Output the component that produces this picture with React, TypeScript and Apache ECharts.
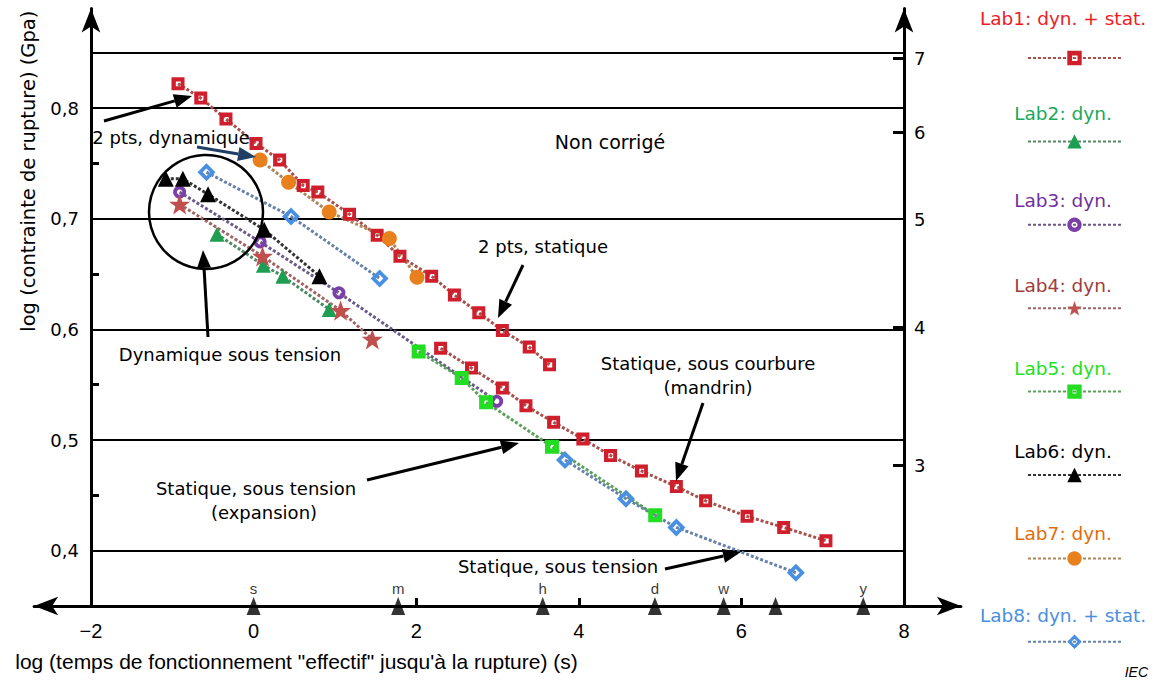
import React, { useEffect, useRef } from 'react';
import * as echarts from 'echarts';

// ---------- data ----------
const labNames = [
  'Lab1: dyn. + stat.',
  'Lab2: dyn.',
  'Lab3: dyn.',
  'Lab4: dyn.',
  'Lab5: dyn.',
  'Lab6: dyn.',
  'Lab7: dyn.',
  'Lab8: dyn. + stat.',
];
const labTextColors = ['#ee1c24', '#1aa85a', '#7030a0', '#a03c3c', '#22e022', '#000000', '#e36c0a', '#4a8fe0'];
const labMarkerColors = ['#d01f2c', '#1e9e50', '#7b3fa8', '#c0504d', '#22dd22', '#000000', '#e8801e', '#4a90e2'];
const labLineColors = ['#a8504c', '#4f8a64', '#6a5a8c', '#a06464', '#5aa05a', '#333333', '#b08458', '#6682aa'];

// Lab1 – upper curve (2 pts, statique)
const lab1aX = [-0.93, -0.65, -0.34, 0.03, 0.32, 0.61, 0.79, 1.18, 1.52, 1.80, 2.19, 2.47, 2.77, 3.06, 3.39, 3.64];
const lab1aY = [0.822, 0.809, 0.790, 0.768, 0.753, 0.730, 0.724, 0.704, 0.685, 0.666, 0.648, 0.631, 0.615, 0.599, 0.584, 0.568];
// Lab1 – lower curve (statique, sous courbure)
const lab1bX = [2.30, 2.68, 3.06, 3.35, 3.69, 4.05, 4.39, 4.77, 5.20, 5.56, 6.07, 6.52, 7.04];
const lab1bY = [0.583, 0.565, 0.547, 0.531, 0.516, 0.501, 0.486, 0.472, 0.458, 0.445, 0.431, 0.421, 0.409];
const lab2X = [-0.45, 0.12, 0.36, 0.93];
const lab2Y = [0.686, 0.658, 0.648, 0.618];
const lab3X = [-0.91, 0.08, 1.05, 2.99];
const lab3Y = [0.724, 0.679, 0.633, 0.535];
const lab4X = [-0.91, 0.11, 1.07, 1.46];
const lab4Y = [0.713, 0.666, 0.617, 0.591];
const lab5X = [2.03, 2.56, 2.86, 3.67, 4.94];
const lab5Y = [0.580, 0.556, 0.534, 0.494, 0.432];
const lab6X = [-1.08, -0.87, -0.56, 0.13, 0.81];
const lab6Y = [0.736, 0.736, 0.722, 0.690, 0.648];
const lab7X = [0.08, 0.43, 0.93, 1.67, 2.01];
const lab7Y = [0.753, 0.733, 0.706, 0.682, 0.647];
// Lab8 – dynamic (upper) and static (lower) parts
const lab8aX = [-0.58, 0.46, 1.55];
const lab8aY = [0.742, 0.702, 0.646];
const lab8bX = [3.83, 4.58, 5.20, 6.67];
const lab8bY = [0.482, 0.447, 0.421, 0.380];

const xTickLabels = [-2, 0, 2, 4, 6, 8];
const xMinorTicks = [2, 4, 6];
const yTickLabels = [0.4, 0.5, 0.6, 0.7, 0.8];
const yMinorTicks = [0.45, 0.55, 0.65, 0.75];
const gpaLabels = [3, 4, 5, 6, 7];
const gpaTicks = [3, 4, 6, 7];
const gridValues = [0.4, 0.5, 0.6, 0.7, 0.8, 0.85];
const plotXRange = [-2, 8];
const timeUnitLabels = ['s', 'm', 'h', 'd', 'w', '', 'y'];
const timeUnitSeconds = [1, 60, 3600, 86400, 604800, 2629800, 31557600];

// ---------- helpers ----------
const pairs = (xs: number[], ys: number[]) => xs.map((x, i) => [x, ys[i]]);
const STAR = 'path://M12,0L14.9,8.3L23.4,8.3L16.6,13.5L19.1,22L12,17L4.9,22L7.4,13.5L0.6,8.3L9.1,8.3Z';
const HOLLOW_SQUARE = 'path://M0,0H12V12H0Z M4,4V8.5H8.5V4Z';
const HOLLOW_SQUARE_G = 'path://M0,0H12V12H0Z M4.5,4.5V7.5H7.5V4.5Z';
const RING = 'path://M6,0A6,6,0,1,1,5.99,0Z M6,3.5A2.5,2.5,0,1,0,6.01,3.5Z';
const HOLLOW_DIAMOND = 'path://M6,0L12,6L6,12L0,6Z M6,3.5L3.5,6L6,8.5L8.5,6Z';
const WIDE = '"DejaVu Sans", Verdana, sans-serif';
const ARIAL = '"Liberation Sans", Arial, sans-serif';

function arrow(x1: number, y1: number, x2: number, y2: number, color = '#000', w = 3, head = 18, hw = 7) {
  const dx = x2 - x1, dy = y2 - y1;
  const L = Math.hypot(dx, dy);
  const ux = dx / L, uy = dy / L;
  const bx = x2 - ux * head, by = y2 - uy * head;
  return [
    { type: 'line', z: 50, shape: { x1, y1, x2: bx, y2: by }, style: { stroke: color, lineWidth: w } },
    {
      type: 'polygon', z: 50,
      shape: { points: [[x2, y2], [bx - uy * hw, by + ux * hw], [bx + uy * hw, by - ux * hw]] },
      style: { fill: color },
    },
  ];
}

function txt(text: string, x: number, y: number, size = 18, color = '#000', align = 'center', family = WIDE) {
  return {
    type: 'text', z: 60, x, y,
    style: { text, fontSize: size, fontFamily: family, fill: color, align, verticalAlign: 'middle' },
  };
}

const symbols = [HOLLOW_SQUARE, 'triangle', RING, STAR, HOLLOW_SQUARE_G, 'triangle', 'circle', HOLLOW_DIAMOND];
const symbolSizes = [13, 15, 13, 21, 14, 16, 15, 18];

function labSeries(idx: number, xs: number[], ys: number[]) {
  return {
    type: 'line',
    name: labNames[idx],
    data: pairs(xs, ys),
    symbol: symbols[idx],
    symbolSize: symbolSizes[idx],
    symbolKeepAspect: true,
    showAllSymbol: true,
    z: 5,
    lineStyle: { color: labLineColors[idx], width: 3, type: [3, 2] },
    itemStyle: { color: labMarkerColors[idx], borderWidth: 0 },
  };
}

export default function App() {
  const ref = useRef<HTMLDivElement>(null);
  useEffect(() => {
    if (!ref.current) return;
    const chart = echarts.init(ref.current, undefined, { renderer: 'svg' });

    const legendIconY = [58, 142, 224, 309, 391, 474, 557, 641];
    const legendTextY = [18, 113, 200, 285, 368, 451, 533, 615];

    const graphics: any[] = [
      { type: 'circle', z: 40, shape: { cx: 206, cy: 212, r: 57 }, style: { fill: 'none', stroke: '#000', lineWidth: 2.5 } },
      ...arrow(104, 121, 192, 96),
      ...arrow(197, 147, 256, 157, '#1f3f66', 3),
      ...arrow(523, 265, 498, 318),
      ...arrow(703, 403, 676, 481),
      ...arrow(367, 480, 519, 443),
      ...arrow(665, 569, 741, 552),
      ...arrow(208, 337, 203, 250),
      txt('Non corrigé', 610, 142, 19),
      txt('2 pts, dynamique', 171, 137),
      txt('2 pts, statique', 543, 246),
      txt('Dynamique sous tension', 230, 354),
      txt('Statique, sous courbure', 708, 363),
      txt('(mandrin)', 708, 387),
      txt('Statique, sous tension', 256, 488),
      txt('(expansion)', 264, 512),
      txt('Statique, sous tension', 558, 566),
      {
        type: 'text', z: 60, x: 1148, y: 672,
        style: { text: 'IEC', fontSize: 14, fontStyle: 'italic', fontFamily: ARIAL, fill: '#000', align: 'right', verticalAlign: 'middle' },
      },
      ...labNames.map((n, i) => txt(n, 1063, legendTextY[i], 18.5, labTextColors[i])),
    ];

    const option: any = {
      animation: false,
      backgroundColor: '#ffffff',
      grid: { left: 34.1, right: 191.1, top: 8.4, bottom: 76, containLabel: false },
      legend: {
        orient: 'vertical',
        left: 1022,
        top: legendIconY[0] - 14,
        itemWidth: 93,
        itemHeight: 18,
        itemGap: 67.2,
        formatter: () => '',
        data: labNames,
        textStyle: { fontSize: 1 },
      },
      xAxis: {
        type: 'value',
        min: -2.7,
        max: 8.7,
        name: 'log (temps de fonctionnement "effectif" jusqu\'à la rupture) (s)',
        nameLocation: 'middle',
        nameGap: 45,
        nameTextStyle: { fontSize: 21, fontFamily: ARIAL, color: '#000', padding: [0, 402, 0, 0] },
        axisLine: { show: true, onZero: false, lineStyle: { color: '#000', width: 3 }, symbol: ['arrow', 'arrow'], symbolSize: [14, 24] },
        axisTick: { show: true, inside: true, length: 8, lineStyle: { width: 3, color: '#000' }, customValues: xMinorTicks },
        axisLabel: {
          show: true,
          customValues: xTickLabels,
          margin: 15,
          fontSize: 20,
          fontFamily: ARIAL,
          color: '#000',
          formatter: (v: number) => (v < 0 ? '\u2212' + Math.abs(v) : String(v)),
        },
        splitLine: { show: false },
      },
      yAxis: [
        {
          type: 'value',
          min: 0.35,
          max: 0.89,
          position: 'left',
          offset: -56.9,
          name: 'log (contrainte de rupture) (Gpa)',
          nameLocation: 'middle',
          nameRotate: 90,
          nameGap: 53,
          nameTextStyle: { fontSize: 19.5, fontFamily: WIDE, color: '#000', padding: [0, 0, 0, 272] },
          axisLine: { show: true, onZero: false, lineStyle: { color: '#000', width: 3 }, symbol: ['none', 'arrow'], symbolSize: [14, 24] },
          axisTick: { show: true, inside: true, length: 8, lineStyle: { width: 3, color: '#000' }, customValues: yMinorTicks },
          axisLabel: {
            show: true,
            customValues: yTickLabels,
            margin: 12,
            fontSize: 18,
            fontFamily: WIDE,
            color: '#000',
            formatter: (v: number) => v.toFixed(1).replace('.', ','),
          },
          splitLine: { show: false },
        },
        {
          type: 'value',
          min: 0.35,
          max: 0.89,
          position: 'right',
          offset: -56.9,
          axisLine: { show: true, onZero: false, lineStyle: { color: '#000', width: 3 }, symbol: ['none', 'arrow'], symbolSize: [14, 24] },
          axisTick: { show: true, inside: true, length: 11, lineStyle: { width: 3, color: '#000' }, customValues: gpaTicks.map((g) => Math.log10(g)) },
          axisLabel: {
            show: true,
            customValues: gpaLabels.map((g) => Math.log10(g)),
            margin: 10,
            fontSize: 18,
            fontFamily: WIDE,
            color: '#000',
            formatter: (v: number) => String(Math.round(Math.pow(10, v))),
          },
          splitLine: { show: false },
        },
      ],
      series: [
        {
          type: 'line',
          name: 'grid',
          data: [],
          silent: true,
          z: 1,
          markLine: {
            silent: true,
            symbol: ['none', 'none'],
            label: { show: false },
            lineStyle: { color: '#000', width: 2, type: 'solid' },
            data: gridValues.map((v) => [{ coord: [plotXRange[0], v] }, { coord: [plotXRange[1], v] }]),
          },
        },
        labSeries(0, lab1aX, lab1aY),
        labSeries(0, lab1bX, lab1bY),
        labSeries(1, lab2X, lab2Y),
        labSeries(2, lab3X, lab3Y),
        labSeries(3, lab4X, lab4Y),
        labSeries(4, lab5X, lab5Y),
        labSeries(5, lab6X, lab6Y),
        labSeries(6, lab7X, lab7Y),
        labSeries(7, lab8aX, lab8aY),
        labSeries(7, lab8bX, lab8bY),
        {
          type: 'scatter',
          name: 'units',
          z: 6,
          data: timeUnitSeconds.map((s) => [Math.log10(s), 0.35]),
          symbol: 'triangle',
          symbolSize: [14, 18],
          itemStyle: { color: '#000' },
          label: {
            show: true,
            position: 'top',
            distance: 1,
            fontSize: 15,
            fontFamily: ARIAL,
            color: '#000',
            textBorderWidth: 0,
            formatter: (p: any) => timeUnitLabels[p.dataIndex],
          },
        },
      ],
      graphic: graphics,
    };
    chart.setOption(option);
    return () => chart.dispose();
  }, []);
  return <div ref={ref} style={{ position: 'fixed', left: 0, top: 0, width: 1152, height: 682, background: '#fff' }} />;
}
